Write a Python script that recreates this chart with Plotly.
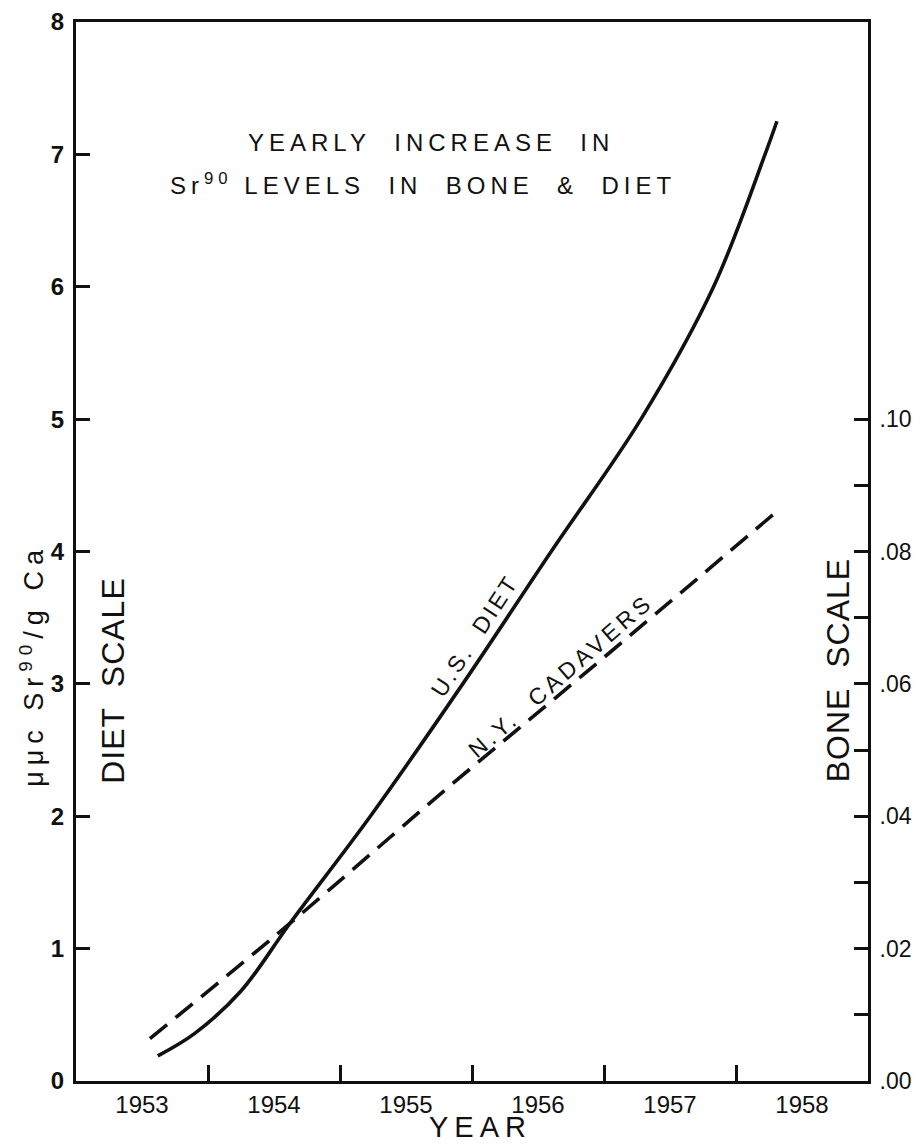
import plotly.graph_objects as go

# U.S. diet (diet scale, uuc Sr90 / g Ca)
diet_years = [1953.62, 1953.90, 1954.25, 1954.62, 1955.23, 1955.93, 1956.60, 1957.28, 1957.83, 1958.22, 1958.31]
diet_vals = [0.19, 0.36, 0.68, 1.19, 2.00, 3.00, 4.00, 5.00, 6.00, 7.00, 7.25]

# N.Y. cadavers (bone scale)
bone_years = [1953.56, 1954.62, 1955.81, 1957.0, 1958.33]
bone_vals = [0.0064, 0.0238, 0.0442, 0.0640, 0.0864]

year_labels = ["1953", "1954", "1955", "1956", "1957", "1958"]
year_label_pos = [1953.5, 1954.5, 1955.5, 1956.5, 1957.5, 1958.5]
year_bounds = [1954, 1955, 1956, 1957, 1958]
diet_ticks = [0, 1, 2, 3, 4, 5, 6, 7, 8]
bone_ticks = [0.00, 0.02, 0.04, 0.06, 0.08, 0.10]
bone_ticktext = [".00", ".02", ".04", ".06", ".08", ".10"]
bone_minor_ticks = [0.01, 0.03, 0.05, 0.07, 0.09]

FONT = "Liberation Sans"
INK = "#111111"

def spaced(t, px):
    return '<span style="letter-spacing:%spx">%s</span>' % (px, t)

fig = go.Figure()
fig.add_trace(go.Scatter(x=diet_years, y=diet_vals, mode="lines",
                         line=dict(color=INK, width=3.6, shape="spline", smoothing=1.0),
                         yaxis="y", hoverinfo="skip", showlegend=False))
fig.add_trace(go.Scatter(x=bone_years, y=bone_vals, mode="lines",
                         line=dict(color=INK, width=3.6, dash="22px,11px", shape="spline", smoothing=1.0),
                         yaxis="y2", hoverinfo="skip", showlegend=False))

fig.update_layout(
    width=920, height=1146,
    margin=dict(l=76, r=52, t=22, b=65, autoexpand=False),
    paper_bgcolor="white", plot_bgcolor="white",
    font=dict(family=FONT, color=INK),
    xaxis=dict(range=[1953, 1959], tickvals=year_label_pos, ticktext=year_labels, ticks="", automargin=False,
               showline=True, linewidth=3, linecolor=INK, mirror=True, showgrid=False, zeroline=False,
               tickfont=dict(size=24, family=FONT), ticklabelstandoff=0,
               minor=dict(tickvals=year_bounds, ticks="inside", ticklen=16, tickwidth=3, tickcolor=INK, showgrid=False)),
    yaxis=dict(range=[0, 8], tickvals=diet_ticks, ticks="inside", ticklen=14, tickwidth=3, tickcolor=INK, automargin=False,
               showline=True, linewidth=3, linecolor=INK, showgrid=False, zeroline=False,
               tickfont=dict(size=24, family=FONT, weight="bold"), ticklabelstandoff=4),
    yaxis2=dict(range=[0, 0.16], overlaying="y", side="right", tickvals=bone_ticks, ticktext=bone_ticktext, automargin=False,
                ticks="inside", ticklen=14, tickwidth=3, tickcolor=INK,
                minor=dict(tickvals=bone_minor_ticks, ticks="inside", ticklen=14, tickwidth=3, tickcolor=INK, showgrid=False),
                showline=True, linewidth=3, linecolor=INK, showgrid=False, zeroline=False,
                tickfont=dict(size=23, family=FONT), ticklabelstandoff=4),
)

ann = []
ann.append(dict(x=1955.69, y=7.09, xref="x", yref="y", text=spaced("YEARLY&nbsp;&nbsp;INCREASE&nbsp;&nbsp;IN", 5),
                showarrow=False, font=dict(size=24), xanchor="center", yanchor="middle"))
ann.append(dict(x=1955.63, y=6.78, xref="x", yref="y",
                text=spaced("Sr<sup>90</sup>&nbsp;LEVELS&nbsp;&nbsp;IN&nbsp;&nbsp;BONE&nbsp;&nbsp;&amp;&nbsp;&nbsp;DIET", 5),
                showarrow=False, font=dict(size=24), xanchor="center", yanchor="middle"))
ann.append(dict(x=1956.02, y=3.36, xref="x", yref="y", text=spaced("U.S.&nbsp;&nbsp;DIET", 3), textangle=-57,
                showarrow=False, font=dict(size=23), xanchor="center", yanchor="middle"))
ann.append(dict(x=1956.67, y=3.06, xref="x", yref="y", text=spaced("N.Y.&nbsp;&nbsp;CADAVERS", 4), textangle=-41,
                showarrow=False, font=dict(size=23), xanchor="center", yanchor="middle"))
ann.append(dict(x=-0.0556, y=0.393, xref="paper", yref="paper", text=spaced("\u03bc\u03bcc&nbsp;Sr<sup>90</sup>/g&nbsp;Ca", 6),
                textangle=-90, showarrow=False, font=dict(size=27), xanchor="center", yanchor="middle"))
ann.append(dict(x=1953.28, y=3.03, xref="x", yref="y", text=spaced("DIET&nbsp;&nbsp;SCALE", 1), textangle=-90,
                showarrow=False, font=dict(size=32), xanchor="center", yanchor="middle"))
ann.append(dict(x=1958.77, y=3.10, xref="x", yref="y", text=spaced("BONE&nbsp;&nbsp;SCALE", 1), textangle=-90,
                showarrow=False, font=dict(size=32), xanchor="center", yanchor="middle"))
ann.append(dict(x=0.511, y=-0.0435, xref="paper", yref="paper", text=spaced("YEAR", 6),
                showarrow=False, font=dict(size=29), xanchor="center", yanchor="middle"))
fig.update_layout(annotations=ann)

fig.write_html("out.html", config={"displayModeBar": False},
               post_script="document.body.style.margin='0';document.body.style.overflow='hidden';")
